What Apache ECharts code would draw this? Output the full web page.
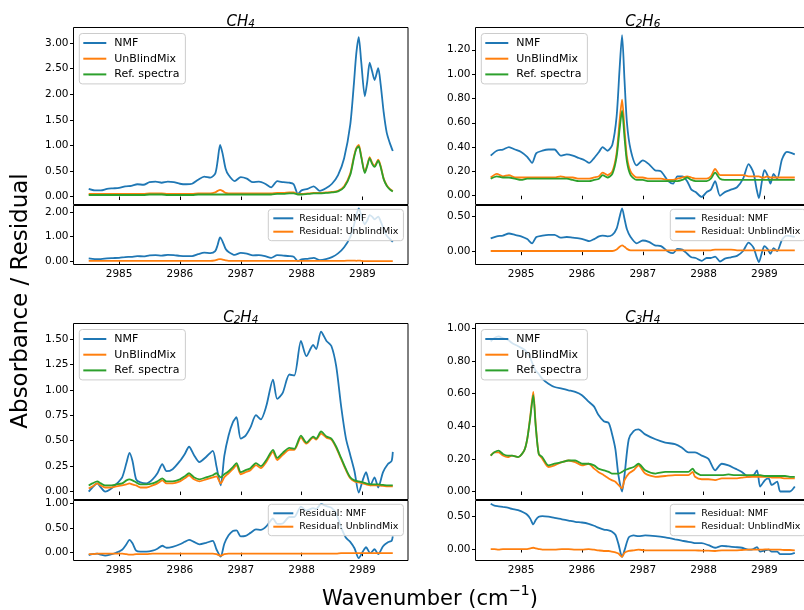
<!DOCTYPE html>
<html>
<head>
<meta charset="utf-8">
<script src="https://cdn.jsdelivr.net/npm/echarts@6/dist/echarts.min.js"></script>
<style>
  html, body { margin: 0; padding: 0; background: #fff; }
  #chart { width: 804px; height: 610px; }
</style>
</head>
<body>
<div id="chart"></div>
<script>
// ---------- Data: wavenumber grids and absorbance / residual values ----------
const xTickValues = [2985, 2986, 2987, 2988, 2989];

// CH4
const ch4X = [
  2984.5, 2984.6, 2984.7, 2984.8, 2984.9, 2985.0, 2985.1, 2985.2, 2985.3, 2985.4,
  2985.5, 2985.6, 2985.7, 2985.8, 2985.9, 2986.0, 2986.1, 2986.2, 2986.3, 2986.4,
  2986.5, 2986.58, 2986.62, 2986.66, 2986.7, 2986.75, 2986.8, 2986.9, 2987.0, 2987.1,
  2987.2, 2987.3, 2987.4, 2987.5, 2987.6, 2987.7, 2987.8, 2987.87, 2987.94, 2988.0,
  2988.1, 2988.2, 2988.3, 2988.4, 2988.5, 2988.6, 2988.7, 2988.8, 2988.86, 2988.9,
  2988.94, 2988.98, 2989.04, 2989.08, 2989.12, 2989.16, 2989.2, 2989.26, 2989.3, 2989.35,
  2989.4, 2989.45, 2989.5];
const ch4Nmf = [
  0.15, 0.12, 0.12, 0.15, 0.16, 0.17, 0.20, 0.21, 0.24, 0.23,
  0.28, 0.29, 0.27, 0.29, 0.28, 0.25, 0.24, 0.25, 0.33, 0.39,
  0.37, 0.45, 0.70, 1.01, 0.85, 0.55, 0.42, 0.30, 0.38, 0.35,
  0.28, 0.29, 0.25, 0.18, 0.30, 0.28, 0.27, 0.24, 0.05, 0.12,
  0.15, 0.20, 0.11, 0.16, 0.25, 0.42, 0.75, 1.40, 2.20, 2.80,
  3.12, 2.65, 1.96, 2.25, 2.62, 2.45, 2.28, 2.51, 2.20, 1.65,
  1.25, 1.05, 0.89];
const ch4Unblind = [
  0.05, 0.05, 0.05, 0.05, 0.05, 0.05, 0.05, 0.05, 0.05, 0.05,
  0.06, 0.06, 0.06, 0.05, 0.05, 0.05, 0.05, 0.05, 0.06, 0.06,
  0.06, 0.08, 0.11, 0.13, 0.11, 0.07, 0.06, 0.06, 0.06, 0.06,
  0.06, 0.06, 0.06, 0.06, 0.07, 0.07, 0.08, 0.08, 0.05, 0.05,
  0.06, 0.07, 0.07, 0.08, 0.09, 0.11, 0.20, 0.45, 0.78, 0.95,
  1.01, 0.80, 0.48, 0.62, 0.77, 0.66, 0.60, 0.72, 0.60, 0.35,
  0.22, 0.15, 0.11];
const ch4Ref = [
  0.03, 0.03, 0.03, 0.03, 0.03, 0.03, 0.03, 0.03, 0.03, 0.03,
  0.04, 0.04, 0.04, 0.03, 0.03, 0.03, 0.03, 0.03, 0.04, 0.04,
  0.04, 0.04, 0.04, 0.04, 0.04, 0.04, 0.04, 0.04, 0.04, 0.04,
  0.04, 0.04, 0.04, 0.04, 0.05, 0.05, 0.06, 0.06, 0.04, 0.04,
  0.05, 0.06, 0.06, 0.07, 0.08, 0.10, 0.18, 0.42, 0.75, 0.93,
  0.98, 0.78, 0.46, 0.60, 0.75, 0.64, 0.58, 0.70, 0.58, 0.34,
  0.21, 0.14, 0.10];
const ch4ResNmf = [
  0.12, 0.09, 0.09, 0.12, 0.13, 0.14, 0.17, 0.18, 0.21, 0.20,
  0.24, 0.25, 0.23, 0.26, 0.25, 0.22, 0.21, 0.21, 0.29, 0.35,
  0.33, 0.41, 0.66, 0.97, 0.81, 0.51, 0.38, 0.26, 0.34, 0.31,
  0.24, 0.25, 0.21, 0.14, 0.25, 0.23, 0.21, 0.18, 0.01, 0.08,
  0.10, 0.14, 0.05, 0.09, 0.17, 0.32, 0.57, 0.98, 1.45, 1.87,
  2.14, 1.87, 1.50, 1.65, 1.87, 1.81, 1.70, 1.81, 1.62, 1.31,
  1.04, 0.91, 0.79];
const ch4ResUnblind = [
  0.02, 0.02, 0.02, 0.02, 0.02, 0.02, 0.02, 0.02, 0.02, 0.02,
  0.02, 0.02, 0.02, 0.02, 0.02, 0.02, 0.02, 0.02, 0.02, 0.02,
  0.02, 0.04, 0.07, 0.09, 0.07, 0.04, 0.02, 0.02, 0.02, 0.02,
  0.02, 0.02, 0.02, 0.02, 0.02, 0.02, 0.02, 0.02, 0.02, 0.02,
  0.02, 0.02, 0.02, 0.02, 0.02, 0.02, 0.02, 0.03, 0.03, 0.02,
  0.03, 0.02, 0.01, 0.01, 0.01, 0.01, 0.01, 0.01, 0.01, 0.01,
  0.01, 0.01, 0.01];

// C2H6
const c2h6X = [
  2984.5, 2984.6, 2984.7, 2984.8, 2984.9, 2985.0, 2985.1, 2985.18, 2985.25, 2985.35,
  2985.45, 2985.55, 2985.65, 2985.75, 2985.85, 2985.95, 2986.05, 2986.12, 2986.2, 2986.28,
  2986.34, 2986.42, 2986.5, 2986.57, 2986.62, 2986.66, 2986.7, 2986.74, 2986.8, 2986.9,
  2987.0, 2987.1, 2987.2, 2987.3, 2987.42, 2987.5, 2987.57, 2987.65, 2987.73, 2987.8,
  2987.87, 2987.97, 2988.05, 2988.12, 2988.19, 2988.27, 2988.35, 2988.45, 2988.55, 2988.65,
  2988.74, 2988.82, 2988.87, 2988.91, 2988.96, 2989.0, 2989.05, 2989.1, 2989.15, 2989.21,
  2989.29, 2989.37, 2989.45, 2989.5];
const c2h6Nmf = [
  0.33, 0.37, 0.38, 0.40, 0.38, 0.36, 0.32, 0.27, 0.35, 0.37,
  0.38, 0.38, 0.33, 0.34, 0.33, 0.31, 0.29, 0.27, 0.31, 0.36,
  0.40, 0.37, 0.42, 0.65, 1.05, 1.32, 0.95, 0.60, 0.38, 0.25,
  0.29, 0.26, 0.21, 0.20, 0.12, 0.10, 0.16, 0.16, 0.12, 0.05,
  0.03, -0.01, 0.03, 0.05, 0.12, 0.00, 0.03, 0.05, 0.07, 0.14,
  0.26, 0.19, 0.06, -0.02, 0.12, 0.21, 0.17, 0.10, 0.18, 0.14,
  0.30, 0.36, 0.35, 0.34];
const c2h6Unblind = [
  0.15, 0.18, 0.16, 0.17, 0.15, 0.15, 0.15, 0.15, 0.15, 0.15,
  0.15, 0.15, 0.16, 0.15, 0.15, 0.14, 0.14, 0.14, 0.15, 0.16,
  0.19, 0.17, 0.20, 0.35, 0.62, 0.79, 0.55, 0.32, 0.20, 0.15,
  0.15, 0.14, 0.14, 0.14, 0.13, 0.13, 0.14, 0.15, 0.16, 0.15,
  0.14, 0.14, 0.14, 0.16, 0.22, 0.17, 0.17, 0.17, 0.17, 0.17,
  0.16, 0.16, 0.16, 0.16, 0.15, 0.15, 0.16, 0.15, 0.15, 0.15,
  0.15, 0.15, 0.15, 0.15];
const c2h6Ref = [
  0.14, 0.16, 0.15, 0.15, 0.14, 0.13, 0.14, 0.14, 0.14, 0.14,
  0.14, 0.14, 0.14, 0.14, 0.13, 0.12, 0.12, 0.12, 0.13, 0.14,
  0.17, 0.15, 0.18, 0.32, 0.55, 0.70, 0.48, 0.28, 0.17, 0.13,
  0.13, 0.12, 0.12, 0.12, 0.12, 0.12, 0.12, 0.13, 0.15, 0.13,
  0.12, 0.12, 0.12, 0.14, 0.19, 0.14, 0.13, 0.13, 0.13, 0.13,
  0.13, 0.13, 0.13, 0.13, 0.13, 0.13, 0.13, 0.13, 0.13, 0.13,
  0.13, 0.13, 0.13, 0.13];
const c2h6ResNmf = [
  0.19, 0.22, 0.23, 0.26, 0.24, 0.22, 0.18, 0.12, 0.21, 0.23,
  0.24, 0.24, 0.20, 0.21, 0.20, 0.19, 0.17, 0.15, 0.18, 0.22,
  0.23, 0.22, 0.24, 0.33, 0.50, 0.62, 0.47, 0.32, 0.21, 0.12,
  0.16, 0.14, 0.09, 0.08, 0.00, -0.02, 0.04, 0.03, -0.03, -0.08,
  -0.09, -0.13, -0.09, -0.09, -0.07, -0.14, -0.10, -0.08, -0.06, 0.01,
  0.13, 0.06, -0.07, -0.15, -0.01, 0.08, 0.04, -0.03, 0.05, 0.01,
  0.17, 0.23, 0.22, 0.21];
const c2h6ResUnblind = [
  0.01, 0.01, 0.01, 0.01, 0.01, 0.01, 0.01, 0.01, 0.01, 0.01,
  0.01, 0.01, 0.01, 0.01, 0.01, 0.01, 0.01, 0.01, 0.01, 0.01,
  0.01, 0.01, 0.01, 0.03, 0.07, 0.09, 0.07, 0.04, 0.02, 0.02,
  0.02, 0.02, 0.02, 0.02, 0.02, 0.02, 0.02, 0.02, 0.02, 0.02,
  0.02, 0.02, 0.02, 0.02, 0.03, 0.03, 0.03, 0.03, 0.02, 0.02,
  0.02, 0.02, 0.02, 0.02, 0.02, 0.02, 0.02, 0.02, 0.02, 0.02,
  0.02, 0.02, 0.02, 0.02];

// C2H4
const c2h4X = [
  2984.5, 2984.56, 2984.64, 2984.7, 2984.77, 2984.85, 2984.95, 2985.05, 2985.12, 2985.17,
  2985.22, 2985.28, 2985.35, 2985.45, 2985.55, 2985.63, 2985.71, 2985.78, 2985.88, 2986.0,
  2986.08, 2986.15, 2986.23, 2986.32, 2986.43, 2986.54, 2986.6, 2986.67, 2986.73, 2986.8,
  2986.87, 2986.93, 2987.0, 2987.08, 2987.16, 2987.25, 2987.33, 2987.42, 2987.53, 2987.6,
  2987.69, 2987.8, 2987.88, 2987.99, 2988.08, 2988.19, 2988.24, 2988.32, 2988.41, 2988.49,
  2988.57, 2988.65, 2988.73, 2988.8, 2988.87, 2988.94, 2989.01, 2989.06, 2989.13, 2989.2,
  2989.26, 2989.34, 2989.42, 2989.48, 2989.5];
const c2h4Nmf = [
  0.00, 0.04, 0.08, 0.04, 0.00, 0.02, 0.07, 0.14, 0.28, 0.38,
  0.30, 0.12, 0.09, 0.08, 0.12, 0.18, 0.27, 0.20, 0.22, 0.30,
  0.37, 0.44, 0.36, 0.29, 0.34, 0.40, 0.25, 0.06, 0.35, 0.55,
  0.68, 0.73, 0.52, 0.55, 0.63, 0.75, 0.71, 0.84, 1.10, 0.91,
  0.97, 1.15, 1.14, 1.48, 1.33, 1.44, 1.40, 1.57, 1.48, 1.43,
  1.23, 0.84, 0.52, 0.36, 0.20, -0.01, 0.12, 0.19, 0.06, 0.14,
  0.04, 0.19, 0.27, 0.30, 0.39];
const c2h4Unblind = [
  0.03, 0.05, 0.08, 0.06, 0.04, 0.04, 0.05, 0.06, 0.07, 0.08,
  0.07, 0.06, 0.04, 0.04, 0.06, 0.08, 0.11, 0.08, 0.08, 0.10,
  0.13, 0.16, 0.12, 0.10, 0.12, 0.14, 0.15, 0.08, 0.14, 0.18,
  0.22, 0.26, 0.17, 0.19, 0.21, 0.26, 0.23, 0.29, 0.39, 0.31,
  0.36, 0.41, 0.41, 0.53, 0.47, 0.53, 0.51, 0.57, 0.53, 0.51,
  0.43, 0.32, 0.21, 0.13, 0.10, 0.09, 0.08, 0.07, 0.06, 0.06,
  0.06, 0.055, 0.05, 0.05, 0.05];
const c2h4Ref = [
  0.06, 0.08, 0.10, 0.08, 0.06, 0.06, 0.07, 0.08, 0.11, 0.12,
  0.11, 0.09, 0.07, 0.07, 0.08, 0.10, 0.13, 0.10, 0.10, 0.12,
  0.15, 0.18, 0.14, 0.12, 0.14, 0.16, 0.18, 0.14, 0.17, 0.20,
  0.24, 0.28, 0.19, 0.21, 0.23, 0.28, 0.25, 0.31, 0.41, 0.33,
  0.38, 0.43, 0.42, 0.55, 0.48, 0.54, 0.52, 0.59, 0.54, 0.52,
  0.44, 0.33, 0.22, 0.14, 0.11, 0.10, 0.09, 0.08, 0.07, 0.07,
  0.07, 0.065, 0.06, 0.06, 0.06];
const c2h4ResNmf = [
  -0.05, -0.03, -0.02, -0.04, -0.06, -0.04, 0.00, 0.06, 0.17, 0.26,
  0.19, 0.04, 0.02, 0.02, 0.04, 0.08, 0.14, 0.10, 0.12, 0.17,
  0.22, 0.26, 0.22, 0.17, 0.20, 0.24, 0.07, -0.08, 0.18, 0.35,
  0.44, 0.45, 0.33, 0.34, 0.40, 0.47, 0.46, 0.53, 0.69, 0.58,
  0.59, 0.72, 0.72, 0.93, 0.85, 0.90, 0.88, 0.98, 0.94, 0.91,
  0.79, 0.51, 0.30, 0.22, 0.09, -0.11, 0.03, 0.11, -0.01, 0.07,
  -0.03, 0.13, 0.21, 0.24, 0.33];
const c2h4ResUnblind = [
  -0.03, -0.03, -0.02, -0.02, -0.02, -0.02, -0.02, -0.02, -0.03, -0.04,
  -0.04, -0.03, -0.03, -0.03, -0.02, -0.02, -0.02, -0.02, -0.02, -0.02,
  -0.02, -0.02, -0.02, -0.02, -0.02, -0.02, -0.03, -0.06, -0.03, -0.02,
  -0.02, -0.02, -0.02, -0.02, -0.02, -0.02, -0.02, -0.02, -0.02, -0.02,
  -0.02, -0.02, -0.02, -0.02, -0.02, -0.02, -0.02, -0.02, -0.02, -0.02,
  -0.02, -0.01, -0.01, -0.01, -0.01, -0.01, -0.01, -0.01, -0.01, -0.01,
  -0.01, -0.01, -0.01, -0.01, -0.01];

// C3H4
const c3h4X = [
  2984.5, 2984.56, 2984.63, 2984.7, 2984.78, 2984.85, 2984.95, 2985.05, 2985.1, 2985.15,
  2985.2, 2985.24, 2985.29, 2985.35, 2985.45, 2985.55, 2985.67, 2985.78, 2985.89, 2986.0,
  2986.11, 2986.2, 2986.27, 2986.36, 2986.44, 2986.49, 2986.55, 2986.6, 2986.66, 2986.7,
  2986.77, 2986.85, 2986.93, 2987.04, 2987.21, 2987.37, 2987.53, 2987.64, 2987.75, 2987.82,
  2987.86, 2987.97, 2988.08, 2988.19, 2988.3, 2988.41, 2988.52, 2988.63, 2988.74, 2988.82,
  2988.88, 2988.93, 2989.01, 2989.07, 2989.12, 2989.21, 2989.26, 2989.34, 2989.42, 2989.5];
const c3h4Nmf = [
  0.92, 0.94, 0.95, 0.94, 0.93, 0.91, 0.89, 0.87, 0.85, 0.82,
  0.77, 0.74, 0.72, 0.69, 0.66, 0.64, 0.63, 0.62, 0.61, 0.59,
  0.55, 0.52, 0.47, 0.43, 0.42, 0.36, 0.26, 0.10, 0.00, 0.10,
  0.32, 0.37, 0.38, 0.35, 0.32, 0.30, 0.29, 0.27, 0.24, 0.24,
  0.24, 0.22, 0.20, 0.13, 0.17, 0.16, 0.14, 0.12, 0.09, 0.10,
  0.13, 0.03, 0.07, 0.08, 0.04, 0.06, 0.00, 0.00, 0.00, 0.03];
const c3h4Unblind = [
  0.22, 0.24, 0.24, 0.22, 0.21, 0.22, 0.21, 0.25, 0.32, 0.46,
  0.61, 0.41, 0.23, 0.20, 0.15, 0.16, 0.18, 0.19, 0.18, 0.16,
  0.17, 0.14, 0.12, 0.10, 0.08, 0.07, 0.06, 0.04, 0.02, 0.07,
  0.11, 0.13, 0.16, 0.11, 0.09, 0.095, 0.10, 0.10, 0.10, 0.12,
  0.09, 0.075, 0.075, 0.07, 0.08, 0.08, 0.08, 0.085, 0.09, 0.09,
  0.09, 0.09, 0.09, 0.09, 0.085, 0.085, 0.085, 0.08, 0.08, 0.08];
const c3h4Ref = [
  0.22, 0.24, 0.25, 0.23, 0.22, 0.22, 0.21, 0.25, 0.32, 0.45,
  0.59, 0.40, 0.23, 0.21, 0.16, 0.17, 0.18, 0.19, 0.19, 0.17,
  0.17, 0.16, 0.14, 0.13, 0.12, 0.11, 0.11, 0.11, 0.12, 0.13,
  0.14, 0.15, 0.17, 0.13, 0.11, 0.12, 0.12, 0.12, 0.12, 0.14,
  0.12, 0.10, 0.10, 0.10, 0.10, 0.105, 0.10, 0.10, 0.10, 0.10,
  0.10, 0.10, 0.095, 0.095, 0.095, 0.095, 0.095, 0.095, 0.09, 0.09];
const c3h4ResNmf = [
  0.70, 0.67, 0.66, 0.65, 0.64, 0.62, 0.60, 0.56, 0.53, 0.47,
  0.38, 0.45, 0.50, 0.51, 0.50, 0.48, 0.46, 0.44, 0.42, 0.41,
  0.39, 0.36, 0.33, 0.30, 0.29, 0.27, 0.22, 0.08, -0.12, -0.02,
  0.18, 0.21, 0.20, 0.21, 0.20, 0.18, 0.15, 0.13, 0.11, 0.10,
  0.09, 0.09, 0.06, 0.02, 0.05, 0.04, 0.03, 0.02, -0.01, 0.00,
  0.03, -0.04, -0.02, -0.01, -0.04, -0.04, -0.08, -0.08, -0.08, -0.06];
const c3h4ResUnblind = [
  0.00, 0.00, -0.01, 0.00, 0.00, 0.00, 0.00, 0.00, 0.00, 0.01,
  0.02, 0.01, 0.00, -0.01, -0.01, -0.01, 0.00, 0.00, -0.01, -0.01,
  0.00, -0.01, -0.02, -0.03, -0.03, -0.04, -0.05, -0.07, -0.12, -0.06,
  -0.03, -0.02, -0.01, -0.02, -0.02, -0.02, -0.02, -0.02, -0.02, -0.02,
  -0.02, -0.025, -0.025, -0.03, -0.02, -0.02, -0.02, -0.015, -0.01, -0.01,
  -0.01, -0.01, -0.005, -0.005, -0.01, -0.01, -0.01, -0.015, -0.015, -0.02];

// Tick values of the y axes
const ch4Ticks = [0, 0.5, 1, 1.5, 2, 2.5, 3];
const ch4ResTicks = [0, 1, 2];
const c2h6Ticks = [0, 0.2, 0.4, 0.6, 0.8, 1.0, 1.2];
const c2h6ResTicks = [0, 0.5];
const c2h4Ticks = [0, 0.25, 0.5, 0.75, 1.0, 1.25, 1.5];
const c2h4ResTicks = [0, 0.5, 1.0];
const c3h4Ticks = [0, 0.2, 0.4, 0.6, 0.8, 1.0];
const c3h4ResTicks = [0, 0.5];

// ---------- Panel layout ----------
const FONT = 'DejaVu Sans';
const BLUE = '#1f77b4', ORANGE = '#ff7f0e', GREEN = '#2ca02c';
const X_MIN = 2984.25, X_MAX = 2989.75;

const panels = [
  { x: ch4X, nmf: ch4Nmf, ub: ch4Unblind, ref: ch4Ref, rn: ch4ResNmf, ru: ch4ResUnblind,
    ticks: ch4Ticks, resTicks: ch4ResTicks, yMain: [-0.156, 3.307], yRes: [-0.13, 2.259],
    left: 73.5, top: 27.5, mid: 205.5, bottom: 264.5 },
  { x: c2h6X, nmf: c2h6Nmf, ub: c2h6Unblind, ref: c2h6Ref, rn: c2h6ResNmf, ru: c2h6ResUnblind,
    ticks: c2h6Ticks, resTicks: c2h6ResTicks, yMain: [-0.072, 1.383], yRes: [-0.183, 0.66],
    left: 475.5, top: 27.5, mid: 205.5, bottom: 264.5 },
  { x: c2h4X, nmf: c2h4Nmf, ub: c2h4Unblind, ref: c2h4Ref, rn: c2h4ResNmf, ru: c2h4ResUnblind,
    ticks: c2h4Ticks, resTicks: c2h4ResTicks, yMain: [-0.078, 1.651], yRes: [-0.157, 1.053],
    left: 73.5, top: 323.5, mid: 500.5, bottom: 560.5 },
  { x: c3h4X, nmf: c3h4Nmf, ub: c3h4Unblind, ref: c3h4Ref, rn: c3h4ResNmf, ru: c3h4ResUnblind,
    ticks: c3h4Ticks, resTicks: c3h4ResTicks, yMain: [-0.049, 1.029], yRes: [-0.177, 0.75],
    left: 475.5, top: 323.5, mid: 500.5, bottom: 560.5 }
];
const titleText = ['{n|CH}{s|4}', '{n|C}{s|2}{n|H}{s|6}', '{n|C}{s|2}{n|H}{s|4}', '{n|C}{s|3}{n|H}{s|4}'];
const PANEL_W = 334.5;

const zip = (xs, ys) => xs.map((x, i) => [x, ys[i]]);

const grid = [], xAxis = [], yAxis = [], series = [], legend = [], graphic = [];

const tickStyle = { show: true, length: 3.5, lineStyle: { color: '#000', width: 1 } };
const labelStyle = { fontFamily: FONT, fontSize: 10.5, color: '#000' };

panels.forEach((p, i) => {
  const gMain = 2 * i, gRes = 2 * i + 1;
  // main plot ends one pixel above the residual plot so the shared edge reads as a heavier rule
  grid.push({ left: p.left, top: p.top, width: PANEL_W, height: p.mid - p.top - 1,
              show: true, borderColor: '#000', borderWidth: 1, backgroundColor: 'transparent',
              containLabel: false, outerBoundsMode: 'none' });
  grid.push({ left: p.left, top: p.mid, width: PANEL_W, height: p.bottom - p.mid,
              show: true, borderColor: '#000', borderWidth: 1, backgroundColor: 'transparent',
              containLabel: false, outerBoundsMode: 'none' });

  xAxis.push({ type: 'value', gridIndex: gMain, min: X_MIN, max: X_MAX,
               axisLine: { show: false }, splitLine: { show: false },
               axisTick: Object.assign({ customValues: xTickValues }, tickStyle),
               axisLabel: { show: false } });
  xAxis.push({ type: 'value', gridIndex: gRes, min: X_MIN, max: X_MAX,
               axisLine: { show: false }, splitLine: { show: false },
               axisTick: Object.assign({ customValues: xTickValues }, tickStyle),
               axisLabel: Object.assign({ show: true, margin: 4, customValues: xTickValues,
                                          formatter: v => String(Math.round(v)) }, labelStyle) });

  yAxis.push({ type: 'value', gridIndex: gMain, min: p.yMain[0], max: p.yMain[1],
               axisLine: { show: false }, splitLine: { show: false },
               axisTick: Object.assign({ customValues: p.ticks }, tickStyle),
               axisLabel: Object.assign({ show: true, margin: 5, customValues: p.ticks,
                                          formatter: v => v.toFixed(2) }, labelStyle) });
  yAxis.push({ type: 'value', gridIndex: gRes, min: p.yRes[0], max: p.yRes[1],
               axisLine: { show: false }, splitLine: { show: false },
               axisTick: Object.assign({ customValues: p.resTicks }, tickStyle),
               axisLabel: Object.assign({ show: true, margin: 5, customValues: p.resTicks,
                                          formatter: v => v.toFixed(2) }, labelStyle) });

  const line = (name, axis, xs, ys, color) => ({
    type: 'line', name, xAxisIndex: axis, yAxisIndex: axis, data: zip(xs, ys),
    showSymbol: false, smooth: 0.25, clip: true,
    lineStyle: { color, width: 1.8 }, itemStyle: { color }
  });
  series.push(line('NMF', gMain, p.x, p.nmf, BLUE));
  series.push(line('UnBlindMix', gMain, p.x, p.ub, ORANGE));
  series.push(line('Ref. spectra', gMain, p.x, p.ref, GREEN));
  series.push(line('Residual: NMF', gRes, p.x, p.rn, BLUE));
  series.push(line('Residual: UnblindMix', gRes, p.x, p.ru, ORANGE));

  const box = { backgroundColor: 'rgba(255,255,255,0.8)', borderColor: '#cccccc',
                borderWidth: 1, borderRadius: 3, selectedMode: false, icon: 'rect', orient: 'vertical' };
  legend.push(Object.assign({
    left: p.left + 5.8, top: p.top + 6, data: ['NMF', 'UnBlindMix', 'Ref. spectra'],
    itemWidth: 23, itemHeight: 2, itemGap: 1.7, padding: [2.5, 6, 2.5, 4],
    textStyle: { fontFamily: FONT, fontSize: 11, color: '#000', lineHeight: 14, padding: [0, 0, 0, 3] }
  }, box));
  legend.push(Object.assign({
    left: p.left + 194.8, top: p.mid + 3.8, data: ['Residual: NMF', 'Residual: UnblindMix'],
    itemWidth: 20, itemHeight: 2, itemGap: 1.4, padding: [3, 5, 3, 5],
    textStyle: { fontFamily: FONT, fontSize: 9.5, color: '#000', lineHeight: 12, padding: [0, 0, 0, 1] }
  }, box));

  graphic.push({
    type: 'text', x: p.left + PANEL_W / 2, y: p.top - 7.5,
    style: {
      text: titleText[i], align: 'center', verticalAlign: 'middle',
      rich: {
        n: { fontFamily: FONT, fontStyle: 'italic', fontSize: 15, lineHeight: 20, verticalAlign: 'bottom', fill: '#000' },
        s: { fontFamily: FONT, fontStyle: 'italic', fontSize: 10.5, lineHeight: 9, verticalAlign: 'bottom', fill: '#000' }
      }
    }
  });
});

// Shared axis titles
graphic.push({
  type: 'text', x: 21, y: 301, rotation: Math.PI / 2,
  style: { text: 'Absorbance / Residual', align: 'center', verticalAlign: 'middle',
           fontFamily: FONT, fontSize: 23, fill: '#000' }
});
graphic.push({
  type: 'text', x: 430, y: 597,
  style: {
    text: '{m|Wavenumber (cm}{p|−1}{m|)}', align: 'center', verticalAlign: 'middle',
    rich: {
      m: { fontFamily: FONT, fontSize: 21, lineHeight: 27, verticalAlign: 'bottom', fill: '#000' },
      p: { fontFamily: FONT, fontSize: 14.5, lineHeight: 12, verticalAlign: 'top', fill: '#000' }
    }
  }
});

const chart = echarts.init(document.getElementById('chart'), null, { renderer: 'canvas' });
chart.setOption({
  animation: false,
  backgroundColor: '#fff',
  grid, xAxis, yAxis, series, legend, graphic
});
</script>
</body>
</html>
